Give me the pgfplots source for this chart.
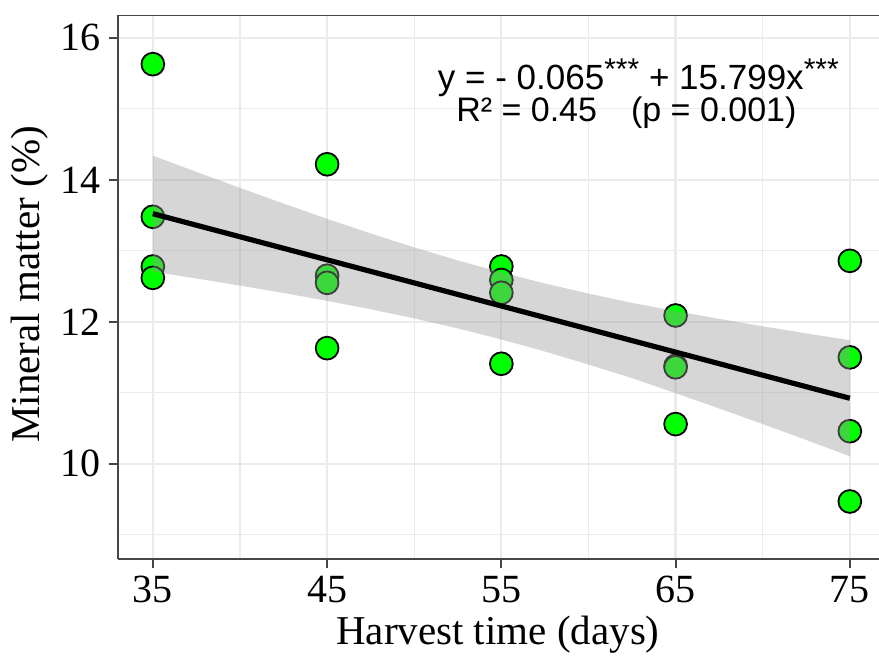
\documentclass[border=0pt]{standalone}
\usepackage{pgfplots}
\pgfplotsset{compat=1.18}
\usepackage{fontspec}
\setmainfont{Liberation Serif}
\newfontfamily\arial{Liberation Sans}

\definecolor{ptgreen}{RGB}{0,255,0}
\definecolor{gridgray}{RGB}{235,235,235}
\definecolor{framegray}{RGB}{70,70,70}

\newcommand{\stars}{\raisebox{0.3em}{\fontsize{15}{15}\selectfont ***}}

\begin{document}
\begin{tikzpicture}
\begin{axis}[
  scale only axis,
  width=387.7pt, height=271.9pt,
  xmin=33, xmax=77.5, ymin=8.66, ymax=16.32,
  axis lines*=left,
  xtick={35,45,55,65,75},
  ytick={10,12,14,16},
  minor xtick={40,50,60,70},
  minor ytick={9,11,13,15},
  grid=both,
  major grid style={gridgray, line width=1.1pt},
  minor grid style={gridgray, line width=0.6pt},
  tick align=outside, tick pos=left,
  major tick length=4.5pt, minor tick length=0pt,
  tick style={framegray, line width=1pt},
  axis line style={framegray, line width=0.7pt},
  clip marker paths=true,
  /pgf/number format/assume math mode=true,
  ticklabel style={font=\fontsize{20}{22}\selectfont},
  yticklabel style={inner sep=0pt, xshift=-4pt},
  xticklabel style={inner sep=0pt, yshift=-4pt},
  xlabel={Harvest time (days)},
  ylabel={Mineral matter (\%)},
  label style={font=\fontsize{20.5}{22}\selectfont},
  xlabel style={at={(axis description cs:0.49,0)}, anchor=base, yshift=-43pt},
  ylabel style={at={(axis description cs:-0.1135,0.505)}, anchor=center},
]
% observations
\addplot[only marks, mark=*, mark size=5.7pt,
  mark options={fill=ptgreen, draw=black, line width=0.9pt}]
  coordinates {
  (35,15.63) (35,13.48) (35,12.78) (35,12.62)
  (45,14.22) (45,12.65) (45,12.55) (45,11.63)
  (55,12.78) (55,12.59) (55,12.41) (55,11.41)
  (65,12.09) (65,11.38) (65,11.36) (65,10.56)
  (75,12.86) (75,11.50) (75,10.46) (75,9.47)
  };
% 95% confidence band
\addplot[draw=none, fill=black!40, fill opacity=0.4] coordinates {
  (35,14.341) (37.5,14.113) (40,13.887) (42.5,13.667) (45,13.452)
  (47.5,13.246) (50,13.049) (52.5,12.866) (55,12.696) (57.5,12.541)
  (60,12.399) (62.5,12.267) (65,12.152) (67.5,12.043) (70,11.937)
  (72.5,11.838) (75,11.741)
  (75,10.107) (72.5,10.336) (70,10.561) (67.5,10.780) (65,10.996)
  (62.5,11.207) (60,11.399) (57.5,11.583) (55,11.752) (52.5,11.908)
  (50,12.049) (47.5,12.178) (45,12.296) (42.5,12.407) (40,12.511)
  (37.5,12.611) (35,12.707)
  } -- cycle;
% fitted line
\addplot[black, line width=2.6pt] coordinates {(35,13.524) (75,10.924)};
\draw[framegray, line width=0.7pt] (rel axis cs:0,1) -- (rel axis cs:1,1);
\node[anchor=base west, inner sep=0pt, font=\arial\fontsize{17.5}{18}\selectfont]
  at (axis cs:51.34,15.27) {y = - 0.065\stars{} + 15.799x\stars};
\node[anchor=base west, inner sep=0pt, font=\arial\fontsize{17}{18}\selectfont]
  at (axis cs:52.39,14.82) {R² = 0.45\hspace{1em}(p = 0.001)};
\end{axis}
\pgfresetboundingbox
\path[use as bounding box] (-59pt,-49pt) rectangle (380.5pt,279.5pt);
\end{tikzpicture}
\end{document}
